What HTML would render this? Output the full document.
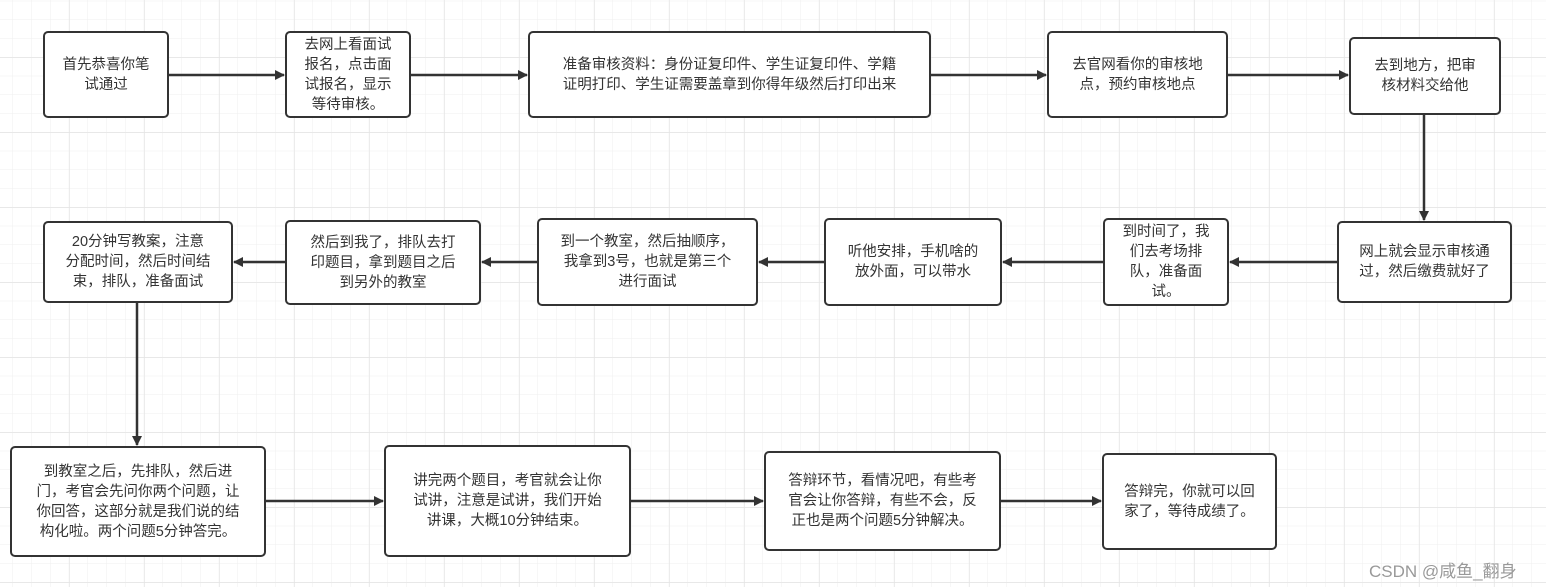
<!DOCTYPE html>
<html><head><meta charset="utf-8"><style>
html,body{margin:0;padding:0;width:1546px;height:587px;overflow:hidden;background:#fff}
.b{position:absolute;box-sizing:border-box;border:2.5px solid #333;border-radius:5px;background:#fff;display:flex;align-items:center;justify-content:center;text-align:center;font-family:"Liberation Sans","Noto Sans CJK SC",sans-serif;font-size:14.5px;line-height:20px;color:#333}
.wm{position:absolute;left:1369px;top:557px;font-family:"Liberation Sans","Noto Sans CJK SC",sans-serif;font-size:17px;color:#999}
</style></head><body>
<svg width="1546" height="587" style="position:absolute;left:0;top:0">
<defs>
<pattern id="g" width="18.75" height="18.75" patternUnits="userSpaceOnUse" x="-5.75" y="1.25"><path d="M18.75 0V18.75H0" fill="none" stroke="#efefef" stroke-width="1"/></pattern>
<pattern id="G" width="75" height="75" patternUnits="userSpaceOnUse" x="-5" y="-17"><path d="M75 0V75H0" fill="none" stroke="#e2e2e2" stroke-width="1"/></pattern>
<marker id="a" markerWidth="10" markerHeight="10" refX="9" refY="5" orient="auto" markerUnits="userSpaceOnUse" viewBox="0 0 10 10"><path d="M0,0L10,5L0,10z" fill="#333"/></marker>
</defs>
<rect width="1546" height="587" fill="url(#g)"/>
<rect width="1546" height="587" fill="url(#G)"/>
<g stroke="#333" stroke-width="2.5" fill="none" marker-end="url(#a)">
<path d="M169 75H284" /><path d="M410 75H527"/><path d="M930 75H1046"/><path d="M1227 75H1348"/>
<path d="M1424 115V220"/>
<path d="M1337 262H1230"/><path d="M1103 262H1003"/><path d="M824 262H759"/><path d="M537 262H482"/><path d="M285 262H234"/>
<path d="M137 302V445"/>
<path d="M265 501H383"/><path d="M630 501H763"/><path d="M1000 501H1101"/>
</g>
</svg>
<div class="b" style="left:43px;top:31px;width:126px;height:87px">首先恭喜你笔<br>试通过</div>
<div class="b" style="left:285px;top:31px;width:126px;height:87px">去网上看面试<br>报名，点击面<br>试报名，显示<br>等待审核。</div>
<div class="b" style="left:528px;top:31px;width:403px;height:87px">准备审核资料：身份证复印件、学生证复印件、学籍<br>证明打印、学生证需要盖章到你得年级然后打印出来</div>
<div class="b" style="left:1047px;top:31px;width:181px;height:87px">去官网看你的审核地<br>点，预约审核地点</div>
<div class="b" style="left:1349px;top:37px;width:152px;height:78px">去到地方，把审<br>核材料交给他</div>
<div class="b" style="left:1337px;top:221px;width:175px;height:82px">网上就会显示审核通<br>过，然后缴费就好了</div>
<div class="b" style="left:1103px;top:218px;width:126px;height:88px">到时间了，我<br>们去考场排<br>队，准备面<br>试。</div>
<div class="b" style="left:824px;top:218px;width:178px;height:88px">听他安排，手机啥的<br>放外面，可以带水</div>
<div class="b" style="left:537px;top:218px;width:221px;height:88px">到一个教室，然后抽顺序，<br>我拿到3号，也就是第三个<br>进行面试</div>
<div class="b" style="left:285px;top:220px;width:196px;height:85px">然后到我了，排队去打<br>印题目，拿到题目之后<br>到另外的教室</div>
<div class="b" style="left:43px;top:221px;width:190px;height:82px">20分钟写教案，注意<br>分配时间，然后时间结<br>束，排队，准备面试</div>
<div class="b" style="left:10px;top:446px;width:256px;height:111px">到教室之后，先排队，然后进<br>门，考官会先问你两个问题，让<br>你回答，这部分就是我们说的结<br>构化啦。两个问题5分钟答完。</div>
<div class="b" style="left:384px;top:445px;width:247px;height:112px">讲完两个题目，考官就会让你<br>试讲，注意是试讲，我们开始<br>讲课，大概10分钟结束。</div>
<div class="b" style="left:764px;top:451px;width:237px;height:100px">答辩环节，看情况吧，有些考<br>官会让你答辩，有些不会，反<br>正也是两个问题5分钟解决。</div>
<div class="b" style="left:1102px;top:453px;width:175px;height:97px">答辩完，你就可以回<br>家了，等待成绩了。</div>
<div class="wm">CSDN @咸鱼_翻身</div>
</body></html>
